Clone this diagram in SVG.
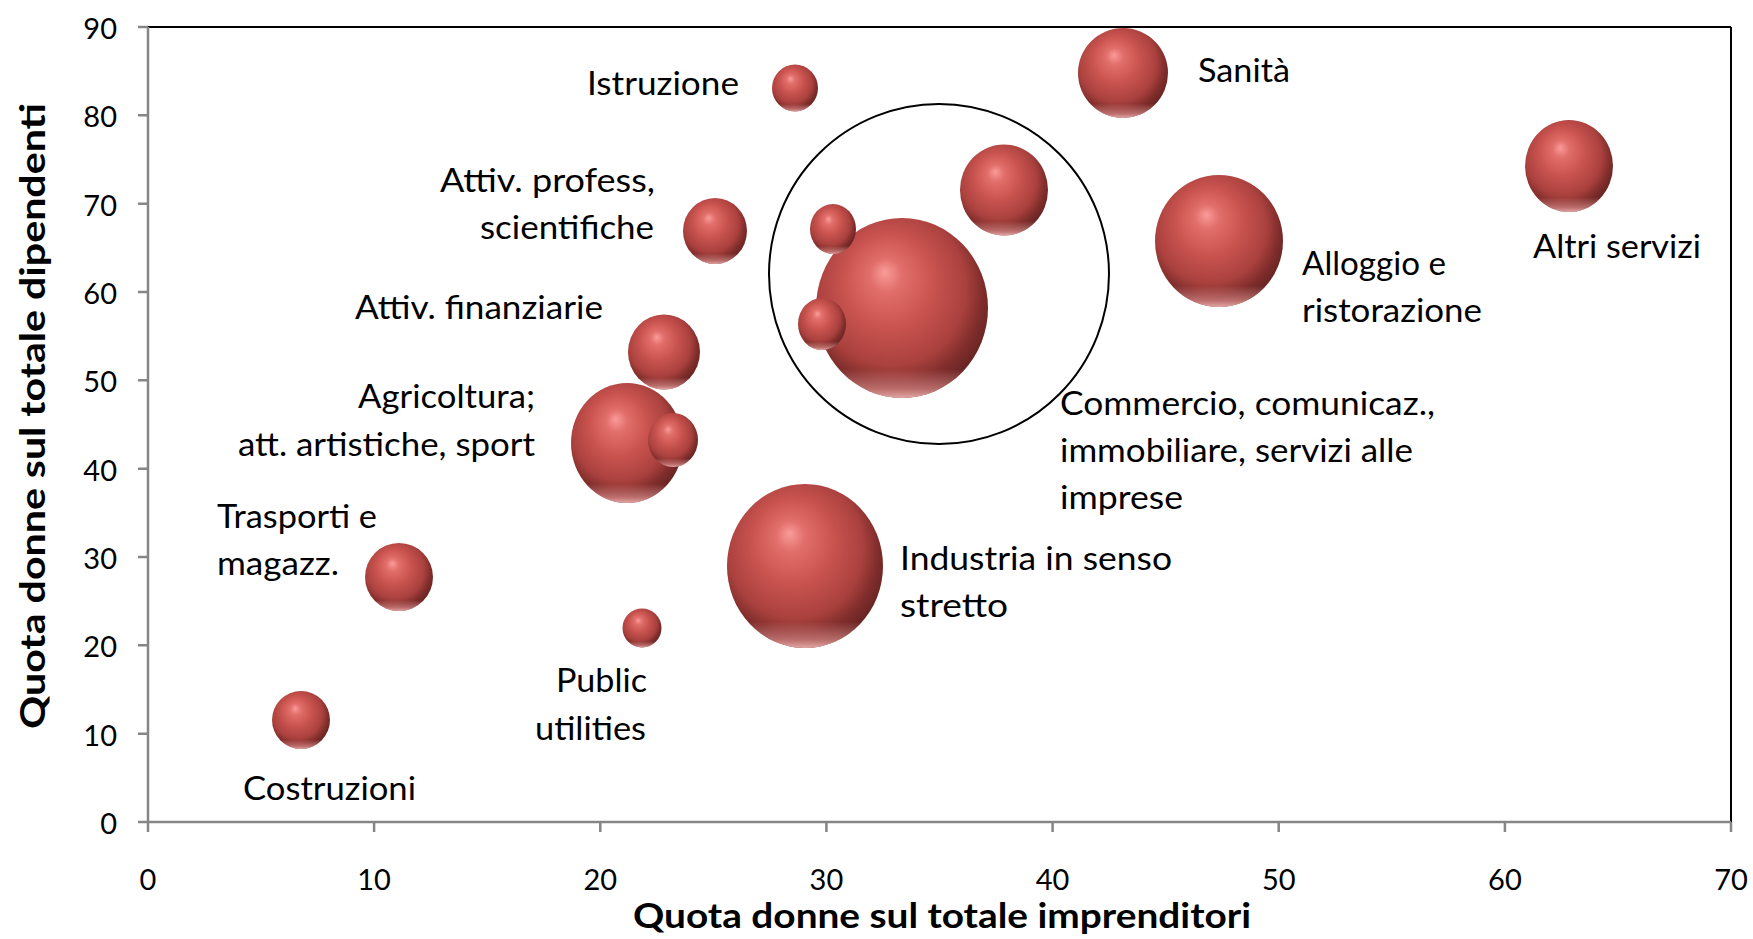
<svg xmlns="http://www.w3.org/2000/svg" width="1753" height="939" viewBox="0 0 1753 939">
<style>
.tk{font-family:Lato,"Open Sans","Liberation Sans",sans-serif;font-size:29px;fill:#000}
.lb{font-family:Lato,"Open Sans","Liberation Sans",sans-serif;font-size:33px;fill:#000}
.ti{font-family:Lato,"Open Sans","Liberation Sans",sans-serif;font-size:34px;font-weight:bold;fill:#000}
.ax{stroke:#868686;stroke-width:2.5;fill:none}
.bd{stroke:#000;stroke-width:2;fill:none}
.b{fill:url(#sph)}
.r{fill:url(#rim)}
</style>
<defs>
<radialGradient id="sph" cx="0.45" cy="0.42" r="0.62" fx="0.4" fy="0.3">
<stop offset="0" stop-color="#f99c99"/>
<stop offset="0.15" stop-color="#e26f6b"/>
<stop offset="0.42" stop-color="#c9534f"/>
<stop offset="0.7" stop-color="#aa413e"/>
<stop offset="0.85" stop-color="#7f2d2b"/>
<stop offset="1" stop-color="#5e2220"/>
</radialGradient>
<linearGradient id="rim" x1="0" y1="0" x2="0" y2="1">
<stop offset="0" stop-color="#f0a0a0" stop-opacity="0"/>
<stop offset="0.84" stop-color="#f0a0a0" stop-opacity="0"/>
<stop offset="0.95" stop-color="#e99a98" stop-opacity="0.6"/>
<stop offset="1" stop-color="#f2b8b6" stop-opacity="0.9"/>
</linearGradient>
</defs>
<rect width="1753" height="939" fill="#fff"/>

<g id="plot-frame">
<line class="bd" x1="148" y1="27" x2="1731" y2="27"/>
<line class="bd" x1="1731" y1="27" x2="1731" y2="822"/>
<line class="ax" x1="148" y1="27" x2="148" y2="822"/>
<line class="ax" x1="138" y1="822" x2="1731" y2="822"/>
<path class="ax" d="M138 27H148M138 115.3H148M138 203.7H148M138 292H148M138 380.3H148M138 468.7H148M138 557H148M138 645.3H148M138 733.7H148"/>
<path class="ax" d="M148 822V832M374.1 822V832M600.3 822V832M826.4 822V832M1052.6 822V832M1278.7 822V832M1504.9 822V832M1731 822V832"/>
</g>

<g id="y-axis-labels" class="tk" text-anchor="end">
<text x="117" y="39">90</text>
<text x="117" y="127.3">80</text>
<text x="117" y="215.7">70</text>
<text x="117" y="304">60</text>
<text x="117" y="392.3">50</text>
<text x="117" y="480.7">40</text>
<text x="117" y="569">30</text>
<text x="117" y="657.3">20</text>
<text x="117" y="745.7">10</text>
<text x="117" y="834">0</text>
</g>
<g id="x-axis-labels" class="tk" text-anchor="middle">
<text x="148" y="890">0</text>
<text x="374.1" y="890">10</text>
<text x="600.3" y="890">20</text>
<text x="826.4" y="890">30</text>
<text x="1052.6" y="890">40</text>
<text x="1278.7" y="890">50</text>
<text x="1504.9" y="890">60</text>
<text x="1731" y="890">70</text>
</g>
<g id="axis-titles" class="ti">
<text x="633" y="928" textLength="618" lengthAdjust="spacingAndGlyphs">Quota donne sul totale imprenditori</text>
<text transform="translate(45,729) rotate(-90)" x="0" y="0" textLength="626" lengthAdjust="spacingAndGlyphs">Quota donne sul totale dipendenti</text>
</g>

<g id="connectors"></g>

<g id="node-commercio-group">
<ellipse class="b" cx="1004" cy="190" rx="44" ry="45.5"/><ellipse class="r" cx="1004" cy="190" rx="44" ry="45.5"/>
<ellipse class="b" cx="902" cy="308" rx="86" ry="90"/><ellipse class="r" cx="902" cy="308" rx="86" ry="90"/>
<ellipse class="b" cx="833" cy="229" rx="23" ry="25"/><ellipse class="r" cx="833" cy="229" rx="23" ry="25"/>
<ellipse class="b" cx="822" cy="324" rx="24" ry="26"/><ellipse class="r" cx="822" cy="324" rx="24" ry="26"/>
<circle cx="939" cy="274" r="170" fill="none" stroke="#000" stroke-width="2"/>
<g class="lb">
<text x="1060" y="415" textLength="375" lengthAdjust="spacingAndGlyphs">Commercio, comunicaz.,</text>
<text x="1060" y="462" textLength="353" lengthAdjust="spacingAndGlyphs">immobiliare, servizi alle</text>
<text x="1060" y="509" textLength="123" lengthAdjust="spacingAndGlyphs">imprese</text>
</g>
</g>

<g id="node-istruzione">
<ellipse class="b" cx="795" cy="88" rx="23" ry="23.5"/><ellipse class="r" cx="795" cy="88" rx="23" ry="23.5"/>
<text class="lb" x="587" y="95" textLength="152" lengthAdjust="spacingAndGlyphs">Istruzione</text>
</g>
<g id="node-sanita">
<ellipse class="b" cx="1123" cy="73" rx="45" ry="45"/><ellipse class="r" cx="1123" cy="73" rx="45" ry="45"/>
<text class="lb" x="1198" y="82" textLength="92" lengthAdjust="spacingAndGlyphs">Sanità</text>
</g>
<g id="node-altri-servizi">
<ellipse class="b" cx="1569" cy="166" rx="44" ry="46"/><ellipse class="r" cx="1569" cy="166" rx="44" ry="46"/>
<text class="lb" x="1533" y="258" textLength="168" lengthAdjust="spacingAndGlyphs">Altri servizi</text>
</g>
<g id="node-alloggio">
<ellipse class="b" cx="1219" cy="241" rx="64" ry="66"/><ellipse class="r" cx="1219" cy="241" rx="64" ry="66"/>
<text class="lb" x="1302" y="275" textLength="144" lengthAdjust="spacingAndGlyphs">Alloggio e</text>
<text class="lb" x="1302" y="322" textLength="180" lengthAdjust="spacingAndGlyphs">ristorazione</text>
</g>
<g id="node-attiv-profess">
<ellipse class="b" cx="715" cy="231" rx="32" ry="33"/><ellipse class="r" cx="715" cy="231" rx="32" ry="33"/>
<text class="lb" x="440" y="192" textLength="215" lengthAdjust="spacingAndGlyphs">Attiv. profess,</text>
<text class="lb" x="480" y="239" textLength="174" lengthAdjust="spacingAndGlyphs">scientifiche</text>
</g>
<g id="node-attiv-finanziarie">
<ellipse class="b" cx="664" cy="352" rx="36" ry="37.5"/><ellipse class="r" cx="664" cy="352" rx="36" ry="37.5"/>
<text class="lb" x="355" y="319" textLength="248" lengthAdjust="spacingAndGlyphs">Attiv. finanziarie</text>
</g>
<g id="node-agricoltura">
<ellipse class="b" cx="627" cy="443" rx="56" ry="60"/><ellipse class="r" cx="627" cy="443" rx="56" ry="60"/>
<ellipse class="b" cx="673" cy="440" rx="25" ry="27"/><ellipse class="r" cx="673" cy="440" rx="25" ry="27"/>
<text class="lb" x="358" y="408" textLength="177" lengthAdjust="spacingAndGlyphs">Agricoltura;</text>
<text class="lb" x="238" y="456" textLength="297" lengthAdjust="spacingAndGlyphs">att. artistiche, sport</text>
</g>
<g id="node-industria">
<ellipse class="b" cx="805" cy="566" rx="78" ry="82"/><ellipse class="r" cx="805" cy="566" rx="78" ry="82"/>
<text class="lb" x="900" y="570" textLength="272" lengthAdjust="spacingAndGlyphs">Industria in senso</text>
<text class="lb" x="900" y="617" textLength="108" lengthAdjust="spacingAndGlyphs">stretto</text>
</g>
<g id="node-public-utilities">
<ellipse class="b" cx="642" cy="628" rx="19.5" ry="19.5"/><ellipse class="r" cx="642" cy="628" rx="19.5" ry="19.5"/>
<text class="lb" x="556" y="692" textLength="91" lengthAdjust="spacingAndGlyphs">Public</text>
<text class="lb" x="535" y="740" textLength="111" lengthAdjust="spacingAndGlyphs">utilities</text>
</g>
<g id="node-trasporti">
<ellipse class="b" cx="399" cy="577" rx="34" ry="34"/><ellipse class="r" cx="399" cy="577" rx="34" ry="34"/>
<text class="lb" x="217" y="528" textLength="160" lengthAdjust="spacingAndGlyphs">Trasporti e</text>
<text class="lb" x="217" y="575" textLength="122" lengthAdjust="spacingAndGlyphs">magazz.</text>
</g>
<g id="node-costruzioni">
<ellipse class="b" cx="301" cy="720" rx="29" ry="29"/><ellipse class="r" cx="301" cy="720" rx="29" ry="29"/>
<text class="lb" x="243" y="800" textLength="173" lengthAdjust="spacingAndGlyphs">Costruzioni</text>
</g>
</svg>
